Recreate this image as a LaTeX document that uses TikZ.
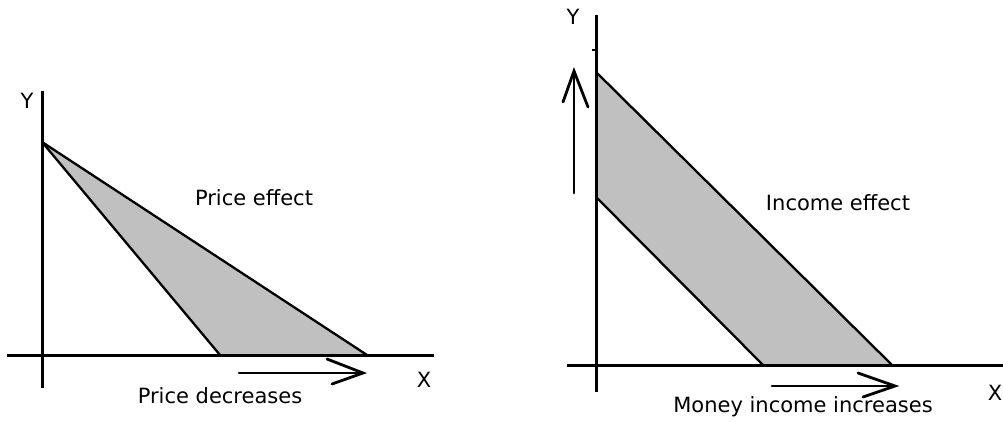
\documentclass[tikz,border=0pt]{standalone}
\usepackage{fontspec}
\setmainfont{DejaVu Sans}
\begin{document}
\begin{tikzpicture}[x=1pt,y=-1pt,
  axis/.style={line width=3pt},
  budget/.style={line width=2.3pt},
  arr/.style={line width=2.8pt,line cap=round},
  shade/.style={fill={rgb,255:red,192;green,192;blue,192}},
  lbl/.style={font=\fontsize{21}{24}\selectfont,inner sep=0pt,anchor=base}]
\useasboundingbox (0,0) rectangle (1003,422);
% ---------- left panel ----------
\coordinate (LYt) at (42,91);
\coordinate (LYb) at (42,388);
\coordinate (LXl) at (7,355);
\coordinate (LXr) at (434,355);
\coordinate (LA) at (42,142);
\coordinate (LI) at (220,355);
\coordinate (LO) at (367,355);
\fill[shade] (LA) -- (LI) -- (LO) -- cycle;
\draw[budget] (LA) -- (LI);
\draw[budget] (LA) -- (LO);
\draw[axis] (LYt) -- (LYb);
\draw[axis] (LXl) -- (LXr);
\coordinate (LHs) at (239,373);
\coordinate (LHt) at (363,373);
\coordinate (LHb1) at (327,359);
\coordinate (LHb2) at (332,384);
\draw[arr] (LHs) -- (LHt);
\draw[arr] (LHb1) -- (LHt) -- (LHb2);
\node[lbl] (ly) at (27,109) {Y};
\node[lbl] (lx) at (424,387) {X};
\node[lbl] (lpe) at (254,205) {Price effect};
\node[lbl] (lpd) at (220,403) {Price decreases};
% ---------- right panel ----------
\coordinate (RYt) at (596,15);
\coordinate (RYb) at (596,392);
\coordinate (RXl) at (567,365);
\coordinate (RXr) at (1003,365);
\coordinate (RU1) at (596,72);
\coordinate (RU2) at (892,365);
\coordinate (RL1) at (596,197);
\coordinate (RL2) at (763,365);
\fill[shade] (RU1) -- (RU2) -- (RL2) -- (RL1) -- cycle;
\draw[budget] (RU1) -- (RU2);
\draw[budget] (RL1) -- (RL2);
\draw[axis] (RYt) -- (RYb);
\draw[axis] (RXl) -- (RXr);
\coordinate (RTk1) at (592,50);
\coordinate (RTk2) at (595,50);
\draw[line width=1.6pt] (RTk1) -- (RTk2);
% vertical arrow
\coordinate (RVs) at (574,193);
\coordinate (RVt) at (574,71);
\coordinate (RVb1) at (563,102);
\coordinate (RVb2) at (588,107);
\draw[arr] (RVs) -- (RVt);
\draw[arr] (RVb1) -- (RVt) -- (RVb2);
% horizontal arrow
\coordinate (RHs) at (772,386);
\coordinate (RHt) at (895,386);
\coordinate (RHb1) at (858,373);
\coordinate (RHb2) at (863,397);
\draw[arr] (RHs) -- (RHt);
\draw[arr] (RHb1) -- (RHt) -- (RHb2);
\node[lbl] (ry) at (573,25) {Y};
\node[lbl] (rx) at (995,400) {X};
\node[lbl] (rie) at (838,210) {Income effect};
\node[lbl] (rmi) at (803,412) {Money income increases};
\end{tikzpicture}
\end{document}
